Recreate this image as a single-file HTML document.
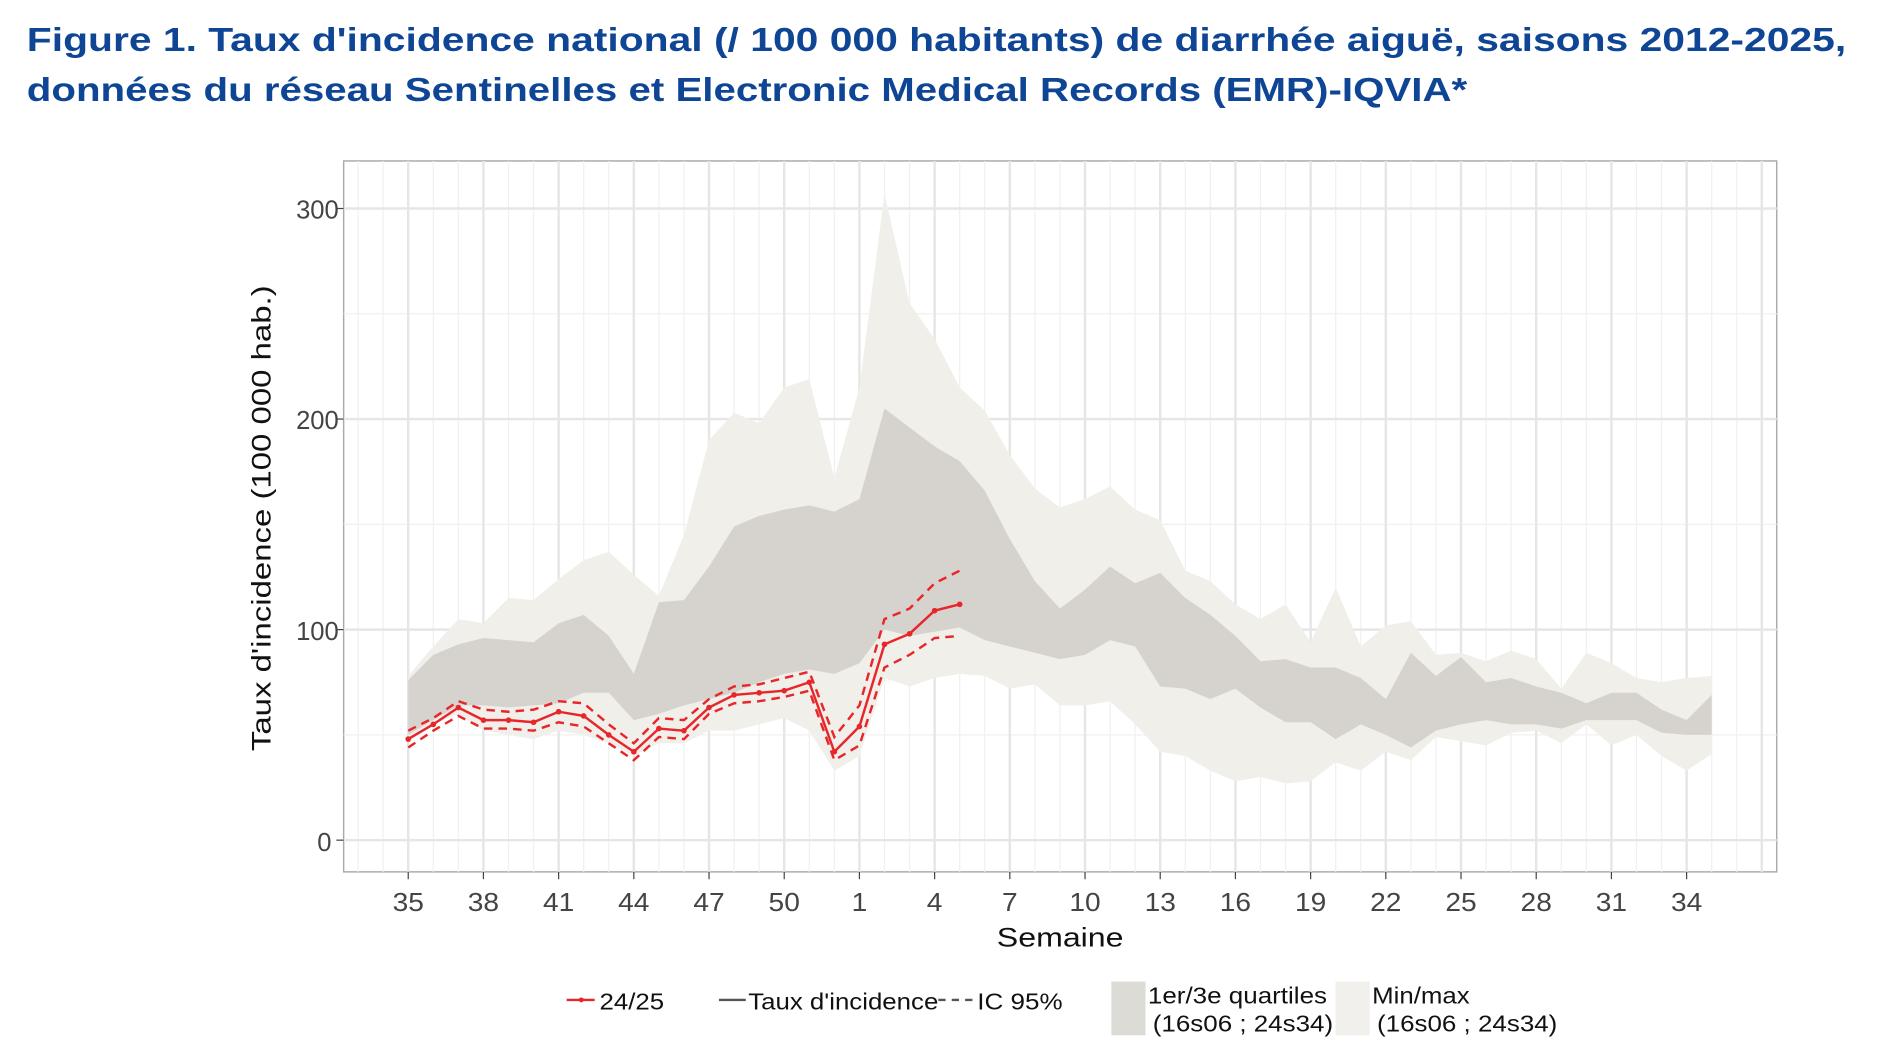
<!DOCTYPE html><html><head><meta charset="utf-8"><style>
body{margin:0;background:#fff;width:1901px;height:1056px;overflow:hidden}
svg{display:block}
text{font-family:"Liberation Sans",sans-serif}
</style></head><body>
<svg id="s" width="1901" height="1056" viewBox="0 0 1560 866" preserveAspectRatio="none" xmlns="http://www.w3.org/2000/svg">
<text x="22" y="42" font-size="27" font-weight="bold" fill="#0f4595" textLength="1493" lengthAdjust="spacingAndGlyphs">Figure 1. Taux d'incidence national (/ 100 000 habitants) de diarrhée aiguë, saisons 2012-2025,</text>
<text x="22" y="83" font-size="27" font-weight="bold" fill="#0f4595" textLength="1182" lengthAdjust="spacingAndGlyphs">données du réseau Sentinelles et Electronic Medical Records (EMR)-IQVIA*</text>
<g id="g"></g>
<text x="278" y="179" font-size="21" fill="#444" text-anchor="end">300</text>
<text x="278" y="352" font-size="21" fill="#444" text-anchor="end">200</text>
<text x="278" y="525" font-size="21" fill="#444" text-anchor="end">100</text>
<text x="272" y="698" font-size="21" fill="#444" text-anchor="end">0</text>
<text transform="translate(222,425) rotate(-90)" font-size="22" fill="#111" text-anchor="middle" textLength="382" lengthAdjust="spacingAndGlyphs">Taux d'incidence (100 000 hab.)</text>
<text x="870" y="776" font-size="22" fill="#111" text-anchor="middle" textLength="104" lengthAdjust="spacingAndGlyphs">Semaine</text>
<line x1="465" y1="820" x2="488" y2="820" stroke="#e8262a" stroke-width="2"/><circle cx="477" cy="820" r="2" fill="#e8262a"/>
<text x="492" y="828" font-size="19" fill="#111" textLength="53" lengthAdjust="spacingAndGlyphs">24/25</text>
<line x1="590" y1="820" x2="612" y2="820" stroke="#555" stroke-width="2"/>
<text x="614" y="828" font-size="19" fill="#111" textLength="156" lengthAdjust="spacingAndGlyphs">Taux d'incidence</text>
<line x1="770" y1="820" x2="800" y2="820" stroke="#555" stroke-width="2" stroke-dasharray="6,5"/>
<text x="802" y="828" font-size="19" fill="#111" textLength="70" lengthAdjust="spacingAndGlyphs">IC 95%</text>
<rect x="912" y="805" width="28" height="44" fill="#dcdbd6"/>
<text x="942" y="823" font-size="19" fill="#111" textLength="147" lengthAdjust="spacingAndGlyphs">1er/3e quartiles</text>
<text x="946" y="846" font-size="19" fill="#111" textLength="148" lengthAdjust="spacingAndGlyphs">(16s06 ; 24s34)</text>
<rect x="1096" y="805" width="28" height="44" fill="#f1f0ec"/>
<text x="1126" y="823" font-size="19" fill="#111" textLength="80" lengthAdjust="spacingAndGlyphs">Min/max</text>
<text x="1130" y="846" font-size="19" fill="#111" textLength="148" lengthAdjust="spacingAndGlyphs">(16s06 ; 24s34)</text>
</svg>
<script>
var X=function(i){return 335+i*20.57},Y=function(v){return 689-1.7267*v};
var maxU=[78,92,105,103,115,114,124,133,137,126,116,145,190,203,198,215,219,172,215,307,255,238,215,204,183,167,158,162,168,157,152,128,123,112,105,112,94,120,92,102,104,88,89,85,90,86,72,89,84,77,75,77,78];
var minL=[47,55,60,52,50,48,52,50,46,40,46,46,52,52,55,58,52,33,40,77,73,77,79,78,72,74,64,64,66,55,42,40,33,28,30,27,28,37,33,42,38,49,47,45,51,52,46,55,45,50,40,33,41];
var qU=[76,88,93,96,95,94,103,107,97,79,113,114,130,149,154,157,159,156,162,205,196,187,180,166,143,123,110,119,130,122,127,115,107,97,85,86,82,82,77,67,89,78,87,75,77,73,70,65,70,70,62,57,69];
var qL=[50,57,64,64,63,64,65,70,70,57,60,64,67,70,75,79,81,79,84,100,97,99,101,95,92,89,86,88,95,92,73,72,67,72,63,56,56,48,55,50,44,52,55,57,55,55,53,57,57,57,51,50,50];
var r=[48,55,63,57,57,56,61,59,50,42,53,52,63,69,70,71,75,42,54,93,98,109,112];
var ru=[52,58,66,62,61,62,66,65,55,46,58,57,67,73,74,77,80,49,64,105,110,122,128];
var rl=[44,52,59,53,53,52,56,54,46,38,49,48,60,65,66,68,71,38,45,82,88,96,97];
var h='<rect x="282" y="132" width="1176" height="583" fill="#fff" stroke="#aaa" stroke-width="1.2"/>';
[50,150,250].forEach(function(v){h+='<line x1="282" x2="1458" y1="'+Y(v)+'" y2="'+Y(v)+'" stroke="#f0f0f0" stroke-width="1"/>'});
for(var i=-2;i<56;i++){var x=X(i);if(x<283||x>1457)continue;var maj=(i%3==0);h+='<line y1="132" y2="715" x1="'+x+'" x2="'+x+'" stroke="'+(maj?'#e6e6e6':'#f0f0f0')+'" stroke-width="'+(maj?2:1)+'"/>';}
[0,100,200,300].forEach(function(v){h+='<line x1="282" x2="1458" y1="'+Y(v)+'" y2="'+Y(v)+'" stroke="#e6e6e6" stroke-width="2"/>'});
function band(u,l,c){var p='';u.forEach(function(v,i){p+=(i?'L':'M')+X(i)+','+Y(v)});for(var i=l.length-1;i>=0;i--)p+='L'+X(i)+','+Y(l[i]);return '<path d="'+p+'Z" fill="'+c+'"/>';}
h+=band(maxU,minL,'#f0efea');h+=band(qU,qL,'#d6d3ce');
function line(a,d){var p='';a.forEach(function(v,i){p+=(i?'L':'M')+X(i)+','+Y(v)});return '<path d="'+p+'" fill="none" stroke="#e8262a" stroke-width="2"'+(d?' stroke-dasharray="7,5"':'')+'/>';}
h+=line(ru,1)+line(rl,1)+line(r,0);
r.forEach(function(v,i){h+='<circle cx="'+X(i)+'" cy="'+Y(v)+'" r="2.3" fill="#e8262a"/>'});
var labs=['35','38','41','44','47','50','1','4','7','10','13','16','19','22','25','28','31','34'];
labs.forEach(function(t,k){var x=X(k*3);h+='<line x1="'+x+'" x2="'+x+'" y1="715" y2="721" stroke="#444"/><text x="'+x+'" y="747" font-size="21" fill="#444" text-anchor="middle" transform="translate('+x+',0) scale(1.1,1) translate('+(-x)+',0)">'+t+'</text>'});
[0,100,200,300].forEach(function(v){h+='<line x1="276" x2="282" y1="'+Y(v)+'" y2="'+Y(v)+'" stroke="#444"/>'});
document.getElementById('g').innerHTML=h;
</script>
</body></html>
